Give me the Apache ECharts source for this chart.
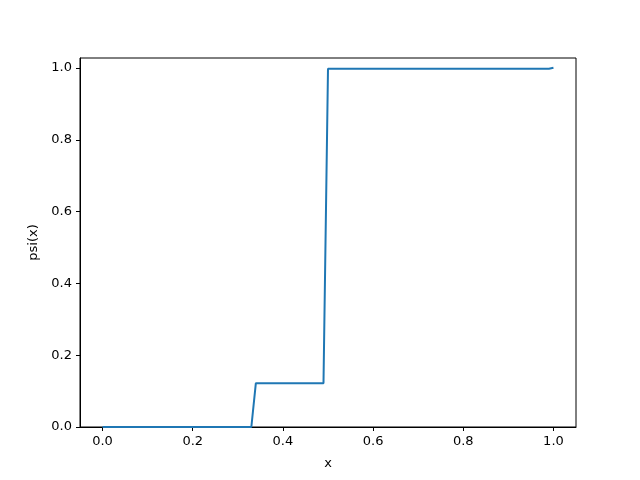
<!DOCTYPE html>
<html>
<head>
<meta charset="utf-8">
<script src="https://cdn.jsdelivr.net/npm/echarts@6/dist/echarts.min.js"></script>
<style>html,body{margin:0;padding:0;background:#fff;}#c{width:640px;height:480px;}</style>
</head>
<body>
<div id="c"></div>
<script>
var xValues = [0.0, 0.33, 0.34, 0.49, 0.5, 0.99, 1.0];
var psiValues = [0.0, 0.0, 0.122, 0.122, 0.998, 0.998, 1.001];
var xTicks = [0.0, 0.2, 0.4, 0.6, 0.8, 1.0];
var yTicks = [0.0, 0.2, 0.4, 0.6, 0.8, 1.0];

var chart = echarts.init(document.getElementById('c'), null, {renderer: 'canvas'});
var font = 'DejaVu Sans';
var data = xValues.map(function (x, i) { return [x, psiValues[i]]; });
chart.setOption({
  animation: false,
  backgroundColor: '#fff',
  grid: {left: 80, right: 64, top: 58, bottom: 53, show: true, borderColor: '#000', borderWidth: 1, backgroundColor: 'transparent'},
  xAxis: {
    type: 'value', min: -0.05, max: 1.05,
    name: 'x', nameLocation: 'middle', nameGap: 30,
    nameTextStyle: {fontFamily: font, fontSize: 13, color: '#000'},
    axisLine: {show: true, onZero: false, lineStyle: {color: '#000', width: 1}},
    axisTick: {show: true, inside: false, length: 4, customValues: xTicks, lineStyle: {color: '#000'}},
    axisLabel: {customValues: xTicks, margin: 8, fontFamily: font, fontSize: 13, color: '#000',
      formatter: function (v) { return v.toFixed(1); }},
    splitLine: {show: false}
  },
  yAxis: {
    type: 'value', min: 0, max: 1.028,
    name: 'psi(x)', nameLocation: 'middle', nameGap: 38,
    nameTextStyle: {fontFamily: font, fontSize: 13, color: '#000'},
    axisLine: {show: true, onZero: false, lineStyle: {color: '#000', width: 1}},
    axisTick: {show: true, inside: false, length: 4, customValues: yTicks, lineStyle: {color: '#000'}},
    axisLabel: {customValues: yTicks, margin: 8, fontFamily: font, fontSize: 13, color: '#000',
      formatter: function (v) { return v.toFixed(1); }},
    splitLine: {show: false}
  },
  series: [{
    type: 'line', data: data, showSymbol: false, symbol: 'none',
    lineStyle: {color: '#1f77b4', width: 2}, clip: true
  }]
});
</script>
</body>
</html>
